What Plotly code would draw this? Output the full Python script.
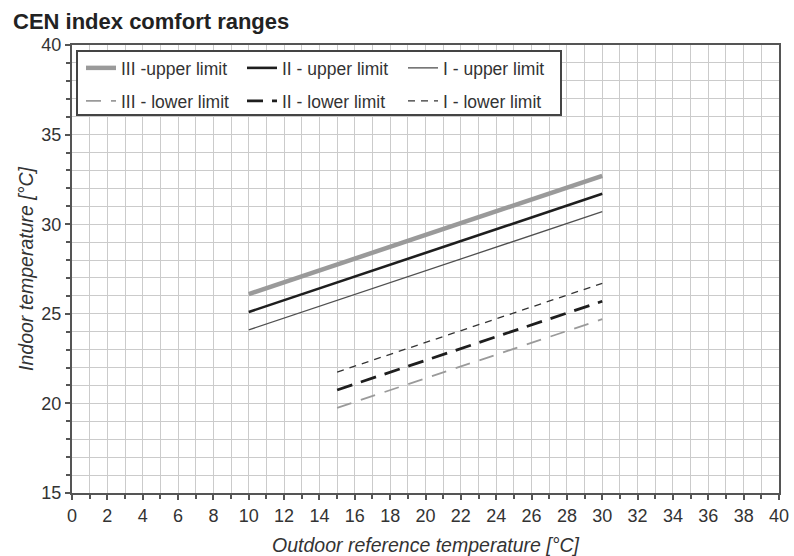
import plotly.graph_objects as go

# Data
x_upper = [10, 30]
x_lower = [15, 30]
names = ["III -upper limit", "II - upper limit", "I - upper limit",
         "III - lower limit", "II - lower limit", "I - lower limit"]
iii_upper = [26.1, 32.7]
ii_upper = [25.1, 31.7]
i_upper = [24.1, 30.7]
iii_lower = [19.75, 24.7]
ii_lower = [20.75, 25.7]
i_lower = [21.75, 26.7]

x_range = [0, 40]
y_range = [15, 40]

FONT = "Liberation Sans, Arial, sans-serif"
TXT = "#333333"

fig = go.Figure()

series = [
    (x_upper, iii_upper, names[0], dict(color="#9a9a9a", width=4.5, dash="solid"), "legend"),
    (x_upper, ii_upper, names[1], dict(color="#1e1e1e", width=2.6, dash="solid"), "legend"),
    (x_upper, i_upper, names[2], dict(color="#505050", width=1.3, dash="solid"), "legend"),
    (x_lower, iii_lower, names[3], dict(color="#9a9a9a", width=1.8, dash="15px,10px"), "legend2"),
    (x_lower, ii_lower, names[4], dict(color="#1e1e1e", width=2.8, dash="16px,9px"), "legend2"),
    (x_lower, i_lower, names[5], dict(color="#333333", width=1.3, dash="7px,6px"), "legend2"),
]
for xs, ys, nm, ln, lg in series:
    fig.add_trace(go.Scatter(x=xs, y=ys, name=nm, mode="lines", line=ln, legend=lg))

L, R, T, B = 72, 15, 45, 63
PW = 794 - L - R
PH = 556 - T - B

def px_x(p):
    return (p - L) / PW

def px_y(p):
    return (556 - B - p) / PH

legend_common = dict(
    orientation="h", xanchor="left", yanchor="middle",
    bgcolor="rgba(0,0,0,0)", borderwidth=0,
    font=dict(family=FONT, size=17.5, color=TXT),
    entrywidth=116, entrywidthmode="pixels", itemwidth=30,
    tracegroupgap=0,
)

fig.update_layout(
    width=794, height=556,
    margin=dict(l=L, r=R, t=T, b=B, autoexpand=False),
    paper_bgcolor="white", plot_bgcolor="white",
    title=dict(text="<b>CEN index comfort ranges</b>", x=13 / 794, xanchor="left",
               y=1 - 21 / 556, yanchor="middle",
               font=dict(family=FONT, size=22, color="#222222")),
    legend=dict(x=px_x(81), y=px_y(68), **legend_common),
    legend2=dict(x=px_x(81), y=px_y(101), **legend_common),
    showlegend=True,
    shapes=[dict(type="rect", xref="paper", yref="paper",
                 x0=px_x(77), x1=px_x(561), y0=px_y(115), y1=px_y(51),
                 line=dict(color="#444444", width=2), fillcolor="white", layer="above")],
)

axis_common = dict(
    automargin=False,
    showline=True, linecolor="#555555", linewidth=2, mirror=True,
    showgrid=True, gridcolor="#cbcbcb", gridwidth=1,
    zeroline=False,
    ticks="outside", ticklen=5, tickcolor="#555555", tickwidth=1.5,
    tickfont=dict(family=FONT, size=18, color=TXT),
)

fig.update_xaxes(
    range=x_range, dtick=2, tick0=0,
    minor=dict(dtick=1, showgrid=True, gridcolor="#cbcbcb", gridwidth=1,
               ticks="outside", ticklen=4, tickcolor="#555555"),
    title=dict(text="<i>Outdoor reference temperature [°C]</i>", standoff=15,
               font=dict(family=FONT, size=19.5, color=TXT)),
    **axis_common,
)
fig.update_yaxes(
    range=y_range, dtick=5, tick0=15,
    minor=dict(dtick=1, showgrid=True, gridcolor="#cbcbcb", gridwidth=1,
               ticks="outside", ticklen=4, tickcolor="#555555"),
    title=dict(text="<i>Indoor temperature [°C]</i>", standoff=3,
               font=dict(family=FONT, size=19.5, color=TXT)),
    **axis_common,
)

fig.write_html("out.html")
